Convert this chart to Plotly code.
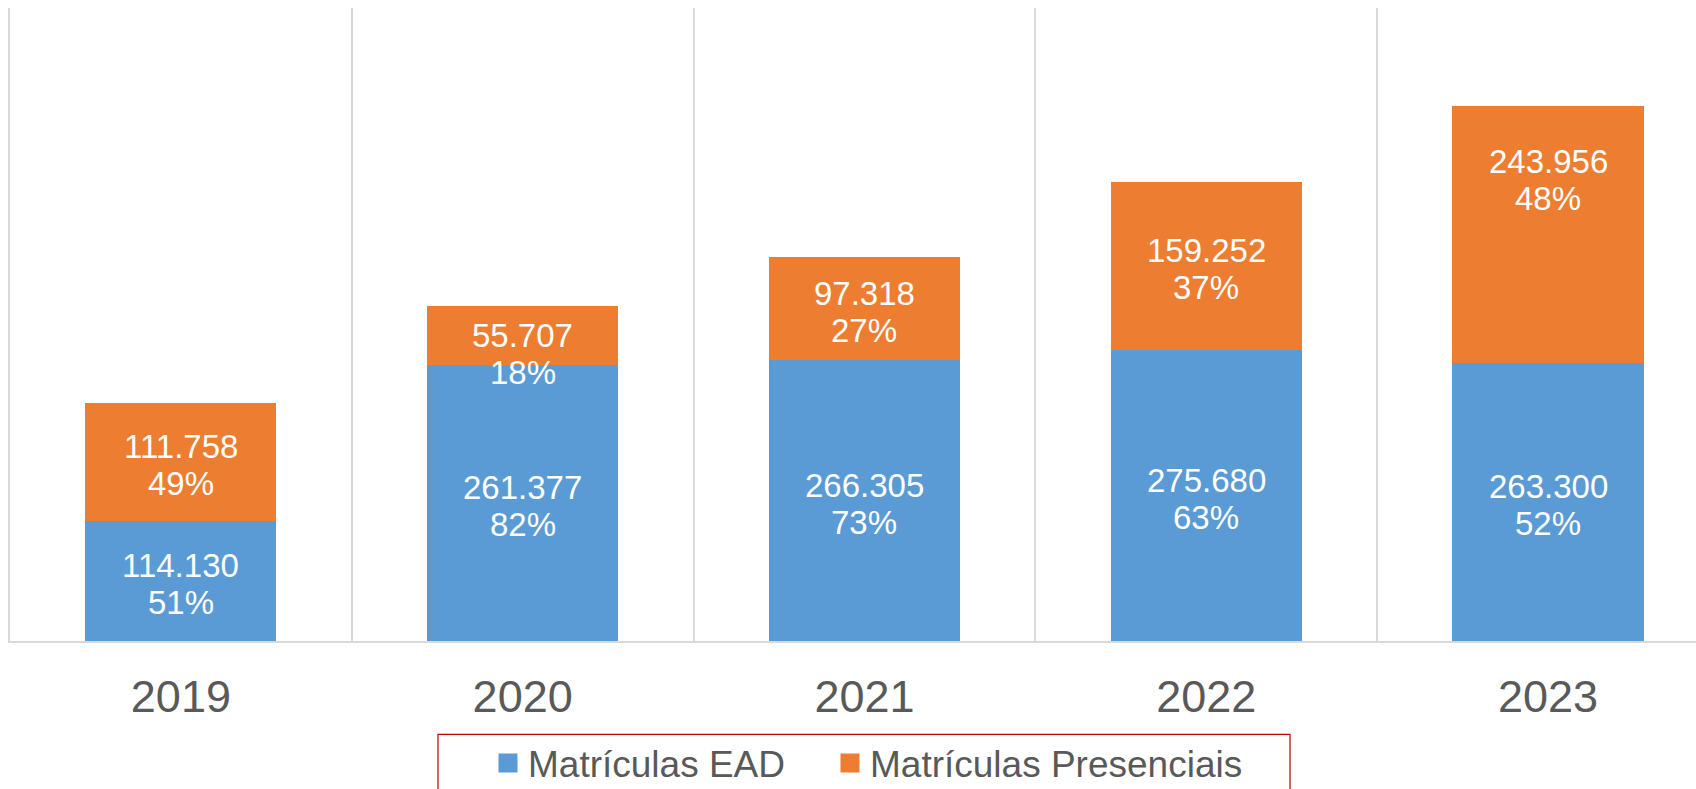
import plotly.graph_objects as go

years = ["2019", "2020", "2021", "2022", "2023"]
ead = [114130, 261377, 266305, 275680, 263300]
presencial = [111758, 55707, 97318, 159252, 243956]
ead_pct = ["51%", "82%", "73%", "63%", "52%"]
pres_pct = ["49%", "18%", "27%", "37%", "48%"]
series_names = ["Matrículas EAD", "Matrículas Presenciais"]

BLUE = "#5B9BD5"
ORANGE = "#ED7D31"
GRID = "#D9D9D9"
TXT = "#595959"
FONT = "Liberation Sans, Arial, sans-serif"


def fmt(v):
    return f"{v:,}".replace(",", ".")


fig = go.Figure()
fig.add_trace(go.Bar(x=years, y=ead, marker=dict(color=BLUE, line=dict(width=0)),
                     showlegend=False, hoverinfo="skip"))
fig.add_trace(go.Bar(x=years, y=presencial, marker=dict(color=ORANGE, line=dict(width=0)),
                     showlegend=False, hoverinfo="skip"))

# legend entries with larger square symbols (one legend per entry for spacing)
for name, col, lg in zip(series_names, [BLUE, ORANGE], ["legend", "legend2"]):
    fig.add_trace(go.Scatter(x=[None], y=[None], mode="markers", name=name, legend=lg,
                             marker=dict(symbol="square", size=16, color=col,
                                         line=dict(color=col, width=3))))

# data labels (value line + percent line)
LBL = dict(family=FONT, size=33, color="white")
HALF = 18.5
BASE = -3
pres_shift = [0, -15, 0, 0, 58]
for i in range(len(years)):
    yb = ead[i] / 2
    yo = ead[i] + presencial[i] / 2
    fig.add_annotation(x=i, y=yb, text=fmt(ead[i]), yshift=BASE + HALF,
                       showarrow=False, font=LBL)
    fig.add_annotation(x=i, y=yb, text=ead_pct[i], yshift=BASE - HALF,
                       showarrow=False, font=LBL)
    fig.add_annotation(x=i, y=yo, text=fmt(presencial[i]),
                       yshift=BASE + pres_shift[i] + HALF, showarrow=False, font=LBL)
    fig.add_annotation(x=i, y=yo, text=pres_pct[i],
                       yshift=BASE + pres_shift[i] - HALF, showarrow=False, font=LBL)

W, H = 1696, 789
L, R, T, B = 10, 0, 8, 147.5
pw = W - L - R
ph = H - T - B

# legend frame
fig.add_shape(type="rect", xref="paper", yref="paper",
              x0=(438 - L) / pw, x1=(1290 - L) / pw,
              y0=-(H + 20 - (T + ph)) / ph, y1=-(735 - (T + ph)) / ph,
              line=dict(color="#C00000", width=1.2), fillcolor="rgba(0,0,0,0)")

leg_common = dict(orientation="h", xanchor="left",
                  y=-(733 - (T + ph)) / ph, yanchor="top",
                  font=dict(family=FONT, size=37, color=TXT),
                  bgcolor="rgba(0,0,0,0)", borderwidth=0)

fig.update_layout(
    width=W, height=H,
    margin=dict(l=L, r=R, t=T, b=B, pad=0, autoexpand=False),
    paper_bgcolor="white", plot_bgcolor="white",
    barmode="stack", bargap=0.441,
    font=dict(family=FONT, color=TXT),
    showlegend=True,
    legend=dict(x=(488 - L) / pw, **leg_common),
    legend2=dict(x=(488 + 342 - L) / pw, **leg_common),
    xaxis=dict(type="category", range=[-0.5, 4.433], tickson="boundaries",
               showgrid=True, gridcolor=GRID, gridwidth=2,
               showline=True, linecolor=GRID, linewidth=2,
               ticks="", tickfont=dict(family=FONT, size=45, color=TXT),
               ticklabelstandoff=15, fixedrange=True),
    yaxis=dict(range=[0, 600000], showgrid=False, zeroline=False,
               showticklabels=False, ticks="",
               showline=True, linecolor=GRID, linewidth=2, fixedrange=True),
)

fig.write_html("out.html", config={"displayModeBar": False},
               post_script="document.body.style.margin='0';document.body.style.overflow='hidden';")
